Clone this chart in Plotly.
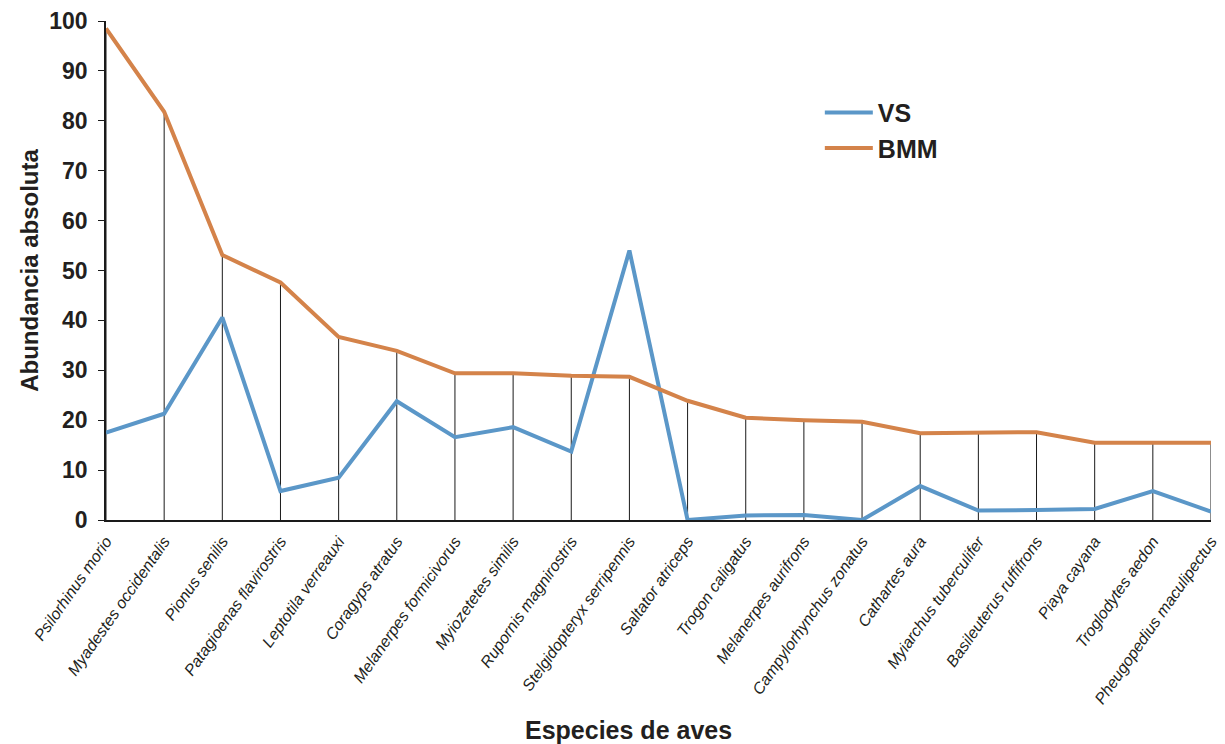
import plotly.graph_objects as go

# Bird species (x axis categories)
especies = [
    "Psilorhinus morio", "Myadestes occidentalis", "Pionus senilis",
    "Patagioenas flavirostris", "Leptotila verreauxi", "Coragyps atratus",
    "Melanerpes formicivorus", "Myiozetetes similis", "Rupornis magnirostris",
    "Stelgidopteryx serripennis", "Saltator atriceps", "Trogon caligatus",
    "Melanerpes aurifrons", "Campylorhynchus zonatus", "Cathartes aura",
    "Myiarchus tuberculifer", "Basileuterus ruffifrons", "Piaya cayana",
    "Troglodytes aedon", "Pheugopedius maculipectus",
]

# Absolute abundance per site
vs = [17.5, 21.3, 40.6, 5.8, 8.5, 23.8, 16.6, 18.6, 13.7, 54.0,
      0.0, 0.9, 1.0, 0.0, 6.8, 1.9, 2.0, 2.2, 5.8, 1.7]
bmm = [98.5, 81.8, 53.1, 47.6, 36.7, 33.9, 29.4, 29.4, 28.9, 28.7,
       23.9, 20.5, 20.0, 19.7, 17.4, 17.6, 17.6, 15.5, 15.5, 15.5]

y_ticks = list(range(0, 101, 10))

text_color = "#231f20"
blue = "#5b97c8"
orange = "#d4834a"

# Drop lines from each BMM point down to zero
drop_x, drop_y = [], []
for name, val in zip(especies, bmm):
    drop_x += [name, name, None]
    drop_y += [0, val, None]

fig = go.Figure()
fig.add_trace(go.Scatter(
    x=drop_x, y=drop_y, mode="lines",
    line=dict(color="#1a1a1a", width=1),
    showlegend=False, hoverinfo="skip",
))
fig.add_trace(go.Scatter(
    x=especies, y=vs, mode="lines", name="VS",
    line=dict(color=blue, width=4),
))
fig.add_trace(go.Scatter(
    x=especies, y=bmm, mode="lines", name="BMM",
    line=dict(color=orange, width=4),
))

fig.update_layout(
    width=1225, height=744,
    margin=dict(l=106, r=14, t=21, b=224),
    paper_bgcolor="white", plot_bgcolor="white",
    font=dict(family="Liberation Sans, Arial, sans-serif", color=text_color),
    legend=dict(
        x=0.646, y=0.862, xanchor="left", yanchor="top",
        bgcolor="rgba(0,0,0,0)",
        font=dict(size=25, weight="bold", color=text_color),
        itemwidth=48, tracegroupgap=4,
    ),
    xaxis=dict(
        type="category", categoryorder="array", categoryarray=especies,
        range=[0, len(especies) - 1], automargin=False,
        showline=True, linecolor="#1a1a1a", linewidth=1.5,
        showgrid=False, ticks="outside", ticklen=4, tickcolor="rgba(0,0,0,0)",
        tickangle=-55,
        tickfont=dict(size=16, style="italic", color=text_color),
    ),
    yaxis=dict(
        range=[0, 100], tickvals=y_ticks, automargin=False,
        showline=True, linecolor="#1a1a1a", linewidth=1.5,
        showgrid=False, zeroline=False,
        ticks="outside", ticklen=6, tickcolor="#1a1a1a",
        ticklabelstandoff=6,
        tickfont=dict(size=23, weight="bold", color=text_color),
        title=dict(text="Abundancia absoluta", standoff=4,
                   font=dict(size=24, weight="bold", color=text_color)),
    ),
    annotations=[dict(
        text="Especies de aves", xref="paper", yref="paper",
        x=0.473, y=0, yshift=-210, xanchor="center", yanchor="middle",
        showarrow=False,
        font=dict(size=25, weight="bold", color=text_color),
    )],
)

fig.write_html("out.html")
